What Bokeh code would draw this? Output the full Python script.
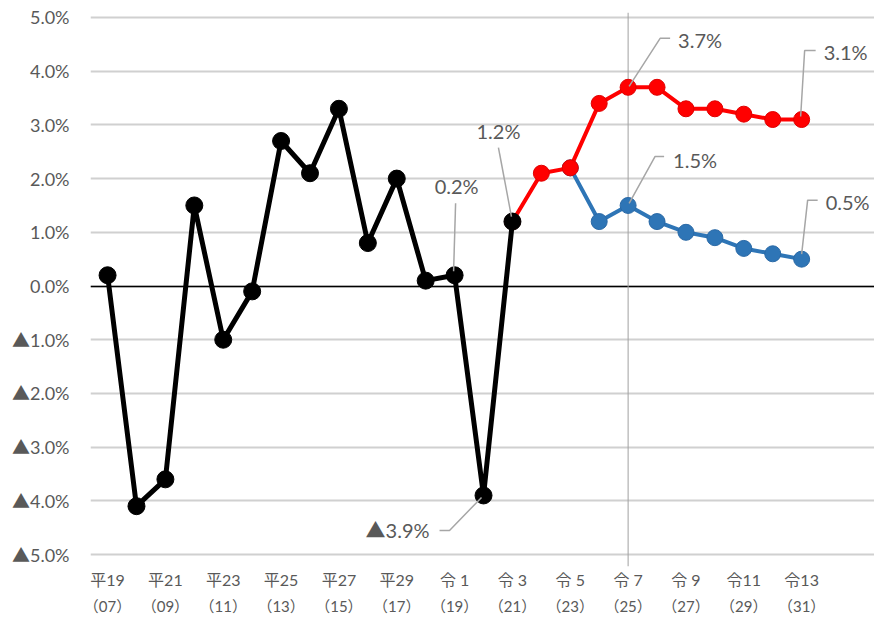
from bokeh.plotting import figure
from bokeh.models import FixedTicker, LinearAxis, Span, Range1d, Label, Grid
from bokeh.embed import file_html
from bokeh.resources import INLINE

# ---- data ----
years_actual = [2007, 2008, 2009, 2010, 2011, 2012, 2013, 2014, 2015, 2016, 2017, 2018, 2019, 2020, 2021]
growth_actual = [0.2, -4.1, -3.6, 1.5, -1.0, -0.1, 2.7, 2.1, 3.3, 0.8, 2.0, 0.1, 0.2, -3.9, 1.2]

years_high = [2021, 2022, 2023, 2024, 2025, 2026, 2027, 2028, 2029, 2030, 2031]
growth_high = [1.2, 2.1, 2.2, 3.4, 3.7, 3.7, 3.3, 3.3, 3.2, 3.1, 3.1]

years_base = [2023, 2024, 2025, 2026, 2027, 2028, 2029, 2030, 2031]
growth_base = [2.2, 1.2, 1.5, 1.2, 1.0, 0.9, 0.7, 0.6, 0.5]

tick_years = [2007, 2009, 2011, 2013, 2015, 2017, 2019, 2021, 2023, 2025, 2027, 2029, 2031]
era_labels = ["平19", "平21", "平23", "平25", "平27", "平29", "令 1", "令 3", "令 5", "令 7", "令 9", "令11", "令13"]
ad_labels = ["（07）", "（09）", "（11）", "（13）", "（15）", "（17）", "（19）", "（21）", "（23）", "（25）", "（27）", "（29）", "（31）"]

y_ticks = [-5, -4, -3, -2, -1, 0, 1, 2, 3, 4, 5]
y_labels = ["▲5.0%", "▲4.0%", "▲3.0%", "▲2.0%", "▲1.0%", "0.0%", "1.0%", "2.0%", "3.0%", "4.0%", "5.0%"]

# ---- layout ----
W, H = 874, 620
FL, FR, FT = 90, 0, 12
FRAME_BOTTOM = 566
FB = H - FRAME_BOTTOM
PPX = 28.92
x0 = 2006.41
x1 = x0 + (W - FL - FR) / PPX
grid_end = x0 + 772 / PPX
zero_end = x0 + 767 / PPX
y0, y1 = -5.223, 5.093
ppx = (W - FL - FR) / (x1 - x0)
ppy = (FRAME_BOTTOM - FT) / (y1 - y0)

FONT = "Lato, 'Noto Sans CJK JP', sans-serif"
GRAY_TXT = "#595959"

p = figure(width=W, height=H, output_backend="svg", toolbar_location=None,
           x_range=Range1d(x0, x1), y_range=Range1d(y0, y1),
           min_border_left=FL, min_border_right=FR, min_border_top=FT, min_border_bottom=FB,
           x_axis_location=None)
p.outline_line_color = None
p.background_fill_color = "white"
p.border_fill_color = "white"
p.xgrid.visible = False
p.ygrid.ticker = FixedTicker(ticks=y_ticks)
p.ygrid.grid_line_color = "#D0D0D0"
p.ygrid.grid_line_width = 1.8
p.ygrid.bounds = (x0, grid_end)

# y axis
ya = p.yaxis[0]
ya.ticker = FixedTicker(ticks=y_ticks)
ya.major_label_overrides = {t: l for t, l in zip(y_ticks, y_labels)}
ya.axis_line_color = None
ya.major_tick_line_color = None
ya.minor_tick_line_color = None
ya.major_label_standoff = 15
ya.major_label_text_font = FONT
ya.major_label_text_font_size = "18px"
ya.major_label_text_color = GRAY_TXT

# x axes (two rows of labels)
for labels, standoff, fs in ((era_labels, -3, "16px"), (ad_labels, -1, "15px")):
    ax = LinearAxis(ticker=FixedTicker(ticks=tick_years),
                    major_label_overrides={t: l for t, l in zip(tick_years, labels)})
    ax.axis_line_color = None
    ax.major_tick_line_color = None
    ax.minor_tick_line_color = None
    ax.major_label_standoff = standoff
    ax.major_label_text_font = FONT
    ax.major_label_text_font_size = fs
    ax.major_label_text_color = GRAY_TXT
    p.add_layout(ax, "below")

# zero line (black) and reference vertical line
zero_grid = Grid(dimension=1, ticker=FixedTicker(ticks=[0]), grid_line_color="black",
                 grid_line_width=1.6, bounds=(x0, zero_end))
p.add_layout(zero_grid)
p.add_layout(Span(location=2025, dimension="height", line_color="#A0A0A0", line_width=1, level="underlay"))

# series: blue, red, black
p.line(years_base, growth_base, line_color="#2E75B6", line_width=4)
p.scatter(years_base, growth_base, size=16, fill_color="#2E75B6", line_color="#2A69A6", line_width=1)

p.line(years_high, growth_high, line_color="#FF0000", line_width=4)
p.scatter(years_high, growth_high, size=16, fill_color="#FF0000", line_color="#E00000", line_width=1)

p.line(years_actual, growth_actual, line_color="black", line_width=5)
p.scatter(years_actual, growth_actual, size=17, fill_color="black", line_color="black")

# data labels with leader lines
def val_of(year, years, vals):
    return vals[years.index(year)]

def fmt(v):
    return ("▲" if v < 0 else "") + f"{abs(v):.1f}%"

labels = [
    # (year, series years, series vals, text offset dx, dy (screen, down +), align, leader offsets)
    (2019, years_actual, growth_actual, 2, -89, "center", [(1, -72), (-1, -4)]),
    (2021, years_actual, growth_actual, -14, -91, "center", [(-14, -74), (-1, -5)]),
    (2020, years_actual, growth_actual, -54, 35, "right", [(-44, 35), (-34, 35), (-2, 2)]),
    (2025, years_high, growth_high, 50, -47, "left", [(42, -49), (32, -49), (1, -1)]),
    (2025, years_base, growth_base, 45, -45, "left", [(36, -49), (27, -49), (1, -2)]),
    (2031, years_high, growth_high, 22, -68, "left", [(14, -69), (3, -69), (-1, -3)]),
    (2031, years_base, growth_base, 24, -57, "left", [(16, -59), (6, -59), (0, -5)]),
]

for yr, ys, vs, dx, dy, align, leader in labels:
    v = val_of(yr, ys, vs)
    lx = [yr + ox / ppx for ox, oy in leader]
    ly = [v - oy / ppy for ox, oy in leader]
    p.line(lx, ly, line_color="#A6A6A6", line_width=1.5)
    p.add_layout(Label(x=yr + dx / ppx, y=v - dy / ppy, text=fmt(v),
                       text_align=align, text_baseline="middle",
                       text_font=FONT, text_font_size="20px", text_color=GRAY_TXT))

open("out.html", "w").write(file_html(p, INLINE))
